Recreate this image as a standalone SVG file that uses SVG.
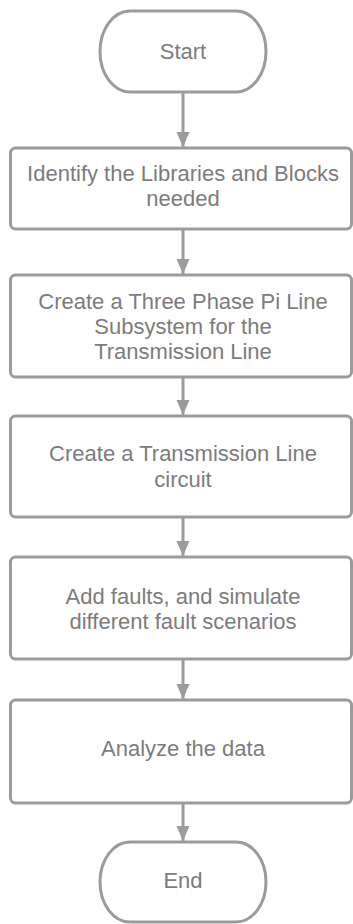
<svg xmlns="http://www.w3.org/2000/svg" width="353" height="924" viewBox="0 0 353 924">
<defs>
<style>
.box{fill:#fff;stroke:#9b9b9b;stroke-width:3}
.t{font-family:"Liberation Sans",Arial,sans-serif;font-size:22px;fill:#7c7c7c;text-anchor:middle;dominant-baseline:central}
.c{stroke:#9b9b9b;stroke-width:3;fill:none;marker-end:url(#ah)}
</style>
<marker id="ah" markerUnits="userSpaceOnUse" markerWidth="16" markerHeight="14" refX="15" refY="7" orient="auto" viewBox="0 0 16 14">
<path d="M0,0.5 L15,7 L0,13.5 Z" fill="#9b9b9b"/>
</marker>
</defs>
<rect width="353" height="924" fill="#fff"/>
<g id="connectors">
<path class="c" d="M183,92 V147"/>
<path class="c" d="M183,229 V274"/>
<path class="c" d="M183,377 V415"/>
<path class="c" d="M183,517 V556"/>
<path class="c" d="M183,659 V699"/>
<path class="c" d="M183,803 V841"/>
</g>
<g id="nodes">
<g id="start"><rect class="box" x="100" y="11" width="166" height="81" rx="30" ry="40.5"/><text class="t" x="183" y="51">Start</text></g>
<g id="step1"><rect class="box" x="10.5" y="148" width="341" height="81" rx="5"/><text class="t" x="183" y="173">Identify the Libraries and Blocks</text><text class="t" x="183" y="198">needed</text></g>
<g id="step2"><rect class="box" x="10.5" y="275" width="341" height="102" rx="5"/><text class="t" x="183" y="301">Create a Three Phase Pi Line</text><text class="t" x="183" y="326">Subsystem for the</text><text class="t" x="183" y="351">Transmission Line</text></g>
<g id="step3"><rect class="box" x="10.5" y="416" width="341" height="101" rx="5"/><text class="t" x="183" y="453">Create a Transmission Line</text><text class="t" x="183" y="479">circuit</text></g>
<g id="step4"><rect class="box" x="10.5" y="557" width="341" height="102" rx="5"/><text class="t" x="183" y="596">Add faults, and simulate</text><text class="t" x="183" y="621">different fault scenarios</text></g>
<g id="step5"><rect class="box" x="10.5" y="700" width="341" height="103" rx="5"/><text class="t" x="183" y="748">Analyze the data</text></g>
<g id="end"><rect class="box" x="100" y="842" width="166" height="80" rx="30" ry="40"/><text class="t" x="183" y="880">End</text></g>
</g>
</svg>
